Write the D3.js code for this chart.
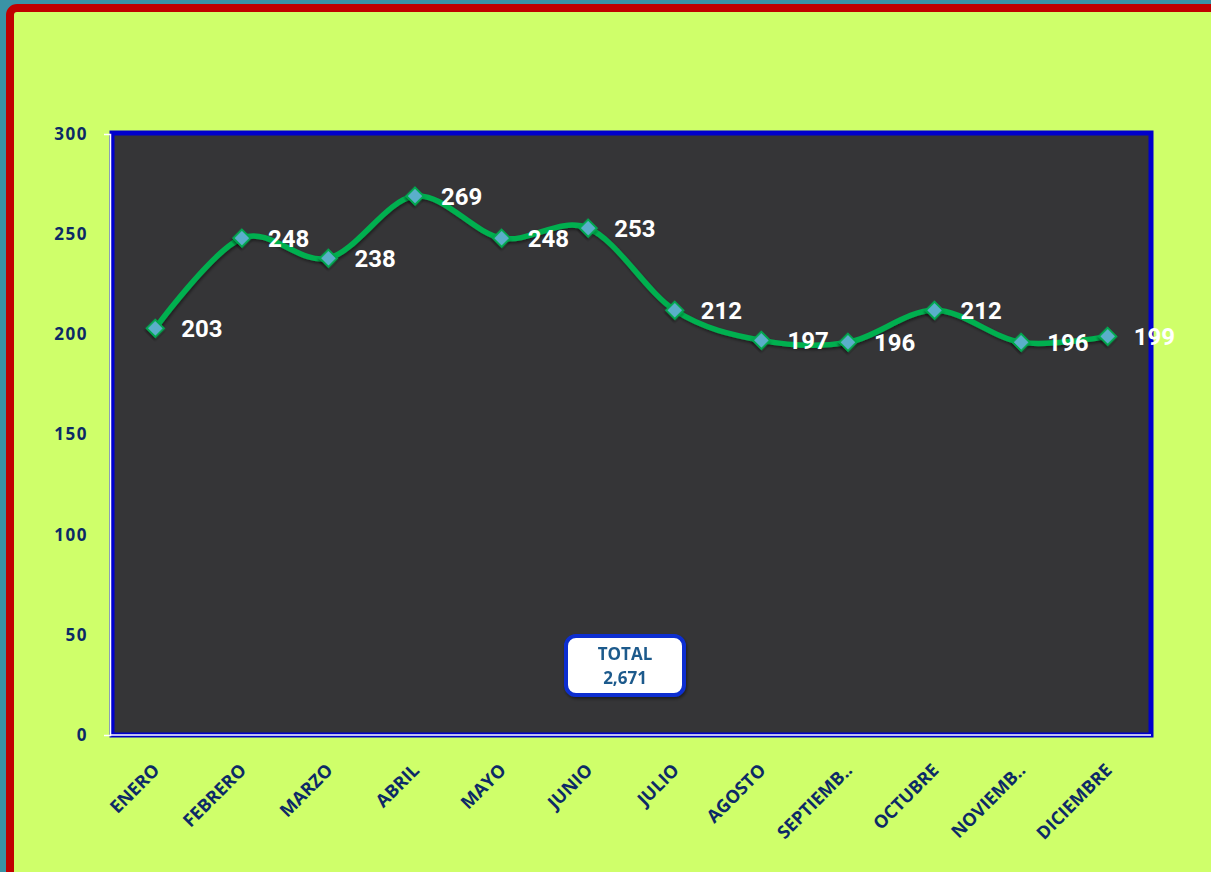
<!DOCTYPE html>
<html>
<head>
<meta charset="utf-8">
<script src="https://cdn.jsdelivr.net/npm/d3@7"></script>
<style>
  html, body { margin: 0; padding: 0; background: #3a93a6; overflow: hidden; }
  svg { display: block; }
</style>
</head>
<body>
<div id="chart"></div>
<script>
// data
const months = ['ENERO', 'FEBRERO', 'MARZO', 'ABRIL', 'MAYO', 'JUNIO', 'JULIO', 'AGOSTO', 'SEPTIEMBRE', 'OCTUBRE', 'NOVIEMBRE', 'DICIEMBRE'];
const monthLabels = ['ENERO', 'FEBRERO', 'MARZO', 'ABRIL', 'MAYO', 'JUNIO', 'JULIO', 'AGOSTO', 'SEPTIEMB..', 'OCTUBRE', 'NOVIEMB..', 'DICIEMBRE'];
const values = [203, 248, 238, 269, 248, 253, 212, 197, 196, 212, 196, 199];
const yTicks = [0, 50, 100, 150, 200, 250, 300];

const width = 1211, height = 872;
const plot = { left: 112, right: 1151, top: 134, bottom: 735 };

const svg = d3.select('#chart').append('svg')
  .attr('width', width)
  .attr('height', height);

const defs = svg.append('defs');
const shadow = defs.append('filter').attr('id', 'shadow')
  .attr('x', '-30%').attr('y', '-30%').attr('width', '160%').attr('height', '160%');
shadow.append('feDropShadow')
  .attr('dx', 1).attr('dy', 2).attr('stdDeviation', 1.5)
  .attr('flood-color', '#000').attr('flood-opacity', 0.45);
const soft = defs.append('filter').attr('id', 'soft');
soft.append('feGaussianBlur').attr('stdDeviation', 0.7);

// page frame
svg.append('rect')
  .attr('x', 10).attr('y', 8)
  .attr('width', width + 20).attr('height', height + 20)
  .attr('rx', 7)
  .attr('fill', '#cfff6a')
  .attr('stroke', '#c00000')
  .attr('stroke-width', 8);

const x = d3.scaleBand().domain(months).range([plot.left, plot.right]);
const y = d3.scaleLinear().domain([0, 300]).range([plot.bottom, plot.top]);
const cx = d => x(d) + x.bandwidth() / 2;

// plot area
svg.append('rect')
  .attr('x', plot.left).attr('y', plot.top - 1)
  .attr('width', plot.right - plot.left).attr('height', plot.bottom - plot.top + 1)
  .attr('fill', '#353537')
  .attr('stroke', '#0000cc')
  .attr('stroke-width', 5);

// axes
const yAxis = svg.append('g')
  .attr('transform', `translate(${plot.left - 2},0)`)
  .call(d3.axisLeft(y).tickValues(yTicks).tickSizeInner(0).tickSizeOuter(6).tickPadding(22));
yAxis.select('.domain').attr('stroke', '#ffffff').attr('stroke-width', 1.5);
yAxis.selectAll('text')
  .attr('fill', '#0c2a66')
  .style('font-family', '"Open Sans", sans-serif')
  .style('font-weight', 'bold')
  .style('font-size', '17px')
  .style('letter-spacing', '1.5px');

svg.append('line')
  .attr('x1', plot.left - 2).attr('x2', plot.right)
  .attr('y1', plot.bottom).attr('y2', plot.bottom)
  .attr('stroke', '#ffffff').attr('stroke-width', 1.5);

const xAxis = svg.append('g')
  .attr('transform', `translate(0,${plot.bottom})`)
  .call(d3.axisBottom(x).tickSize(0).tickFormat((d, i) => monthLabels[i]));
xAxis.select('.domain').remove();
xAxis.selectAll('text')
  .attr('text-anchor', 'end')
  .attr('fill', '#0c2a66')
  .attr('x', 0).attr('y', 0).attr('dy', '0.35em')
  .attr('transform', 'translate(1,32) rotate(-45)')
  .style('font-family', '"Open Sans", sans-serif')
  .style('font-weight', 'bold')
  .style('font-size', '18px');

// line
const line = d3.line()
  .x((d, i) => cx(months[i]))
  .y(d => y(d))
  .curve(d3.curveCatmullRom.alpha(0));

svg.append('path')
  .datum(values)
  .attr('d', line)
  .attr('fill', 'none')
  .attr('stroke', '#00b050')
  .attr('stroke-width', 5.5)
  .attr('stroke-linecap', 'round')
  .attr('filter', 'url(#shadow)');

// markers
const diamond = d3.symbol().type(d3.symbolSquare).size(150);
svg.selectAll('.marker')
  .data(values)
  .enter().append('path')
  .attr('class', 'marker')
  .attr('d', diamond)
  .attr('transform', (d, i) => `translate(${cx(months[i])},${y(d)}) rotate(45)`)
  .attr('fill', '#5aafca')
  .attr('stroke', '#00a84f')
  .attr('stroke-width', 2)
  .attr('filter', 'url(#shadow)');

// value labels
svg.selectAll('.val')
  .data(values)
  .enter().append('text')
  .attr('class', 'val')
  .attr('x', (d, i) => cx(months[i]) + 26)
  .attr('y', d => y(d) + 9)
  .attr('fill', '#ffffff')
  .style('font-family', 'Roboto, sans-serif')
  .style('font-weight', 'bold')
  .style('font-size', '24px')
  .text(d => d);

// total box
const total = d3.sum(values);
const box = svg.append('g').attr('transform', 'translate(625,666)');
box.append('rect')
  .attr('x', -59).attr('y', -30)
  .attr('width', 118).attr('height', 59)
  .attr('rx', 10)
  .attr('fill', '#ffffff')
  .attr('stroke', '#0a2fd0')
  .attr('stroke-width', 4)
  .attr('filter', 'url(#shadow)');
box.selectAll('text')
  .data(['TOTAL', d3.format(',')(total)])
  .enter().append('text')
  .attr('text-anchor', 'middle')
  .attr('y', (d, i) => i === 0 ? -6 : 18)
  .attr('fill', '#1e5a8c')
  .attr('filter', 'url(#soft)')
  .style('font-family', '"Open Sans", sans-serif')
  .style('font-weight', 'bold')
  .style('font-size', '17px')
  .text(d => d);
</script>
</body>
</html>
